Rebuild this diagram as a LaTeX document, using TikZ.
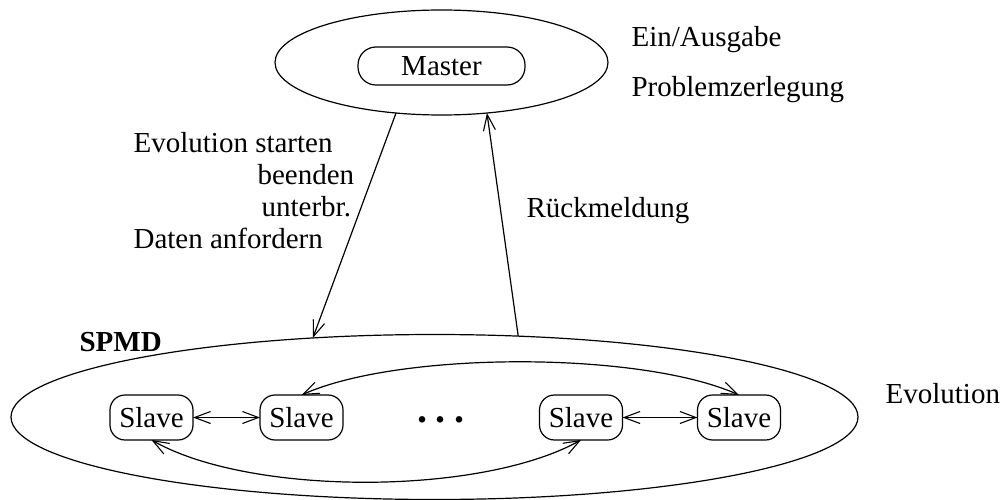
\documentclass[tikz,border=0pt]{standalone}
\usepackage{fontspec}
\setmainfont{Liberation Serif}
\usetikzlibrary{shapes.geometric,arrows.meta}

\begin{document}
\begin{tikzpicture}[
  x=1pt, y=-1pt,
  line width=1.2pt,
  font=\fontsize{29}{32}\selectfont,
  tip/.tip={Straight Barb[length=16pt,width=12pt,line width=1.1pt]},
  group/.style={draw, ellipse, inner sep=0pt, outer sep=0pt},
  procbox/.style={draw, rounded corners=15pt, inner sep=0pt, outer sep=0pt,
                  minimum width=83pt, minimum height=45pt},
  lbl/.style={anchor=base west, inner sep=0pt},
  link/.style={-tip},
  duplex/.style={tip-tip}
]
\useasboundingbox (0,0) rectangle (1006,500);

% master process group
\node[group, minimum width=333pt, minimum height=105pt] (mgrp) at (441.5,62.5) {};
\node[draw, rounded corners=18pt, inner sep=0pt, outer sep=0pt,
      minimum width=167pt, minimum height=38pt] (master) at (441.5,66) {Master};

\node[lbl] (io)  at (631,47) {Ein/Ausgabe};
\node[lbl] (dec) at (631,97) {Problemzerlegung};

% SPMD group of slaves
\node[group, minimum width=847pt, minimum height=165pt] (spmd) at (434.5,417) {};
\node[lbl, font=\fontsize{29}{32}\selectfont\bfseries] (spmdlbl) at (79,351) {SPMD};
\node[lbl] (evo) at (885,403) {Evolution};

\node[procbox] (s1) at (151.5,417.5) {Slave};
\node[procbox] (s2) at (301.5,417.5) {Slave};
\node[procbox] (s3) at (581,417.5) {Slave};
\node[procbox] (s4) at (739,417.5) {Slave};
\node[inner sep=0pt, font=\fontsize{40}{40}\selectfont\bfseries] (dots) at (441,420)
  {.\hspace{8.5pt}.\hspace{8.5pt}.};

% neighbour exchange
\draw[duplex] (s1.east) -- (s2.west);
\draw[duplex] (s3.east) -- (s4.west);
\draw[duplex] (s2.north) .. controls (400,351) and (640,351) .. (s4.north);
\draw[duplex] (s1.south) .. controls (250,496) and (480,496) .. (s3.south);

% master <-> slaves
\draw[link] (mgrp.-132) -- (spmd.147);
\draw[link] (spmd.44.4) -- (mgrp.-48);

\node[lbl] (cmd1) at (133,153) {Evolution starten};
\node[lbl] (cmd2) at (257,184.7) {beenden};
\node[lbl] (cmd3) at (261,216.3) {unterbr.};
\node[lbl] (cmd4) at (133,248) {Daten anfordern};
\node[lbl] (ack)  at (526,217) {Rückmeldung};
\end{tikzpicture}
\end{document}
